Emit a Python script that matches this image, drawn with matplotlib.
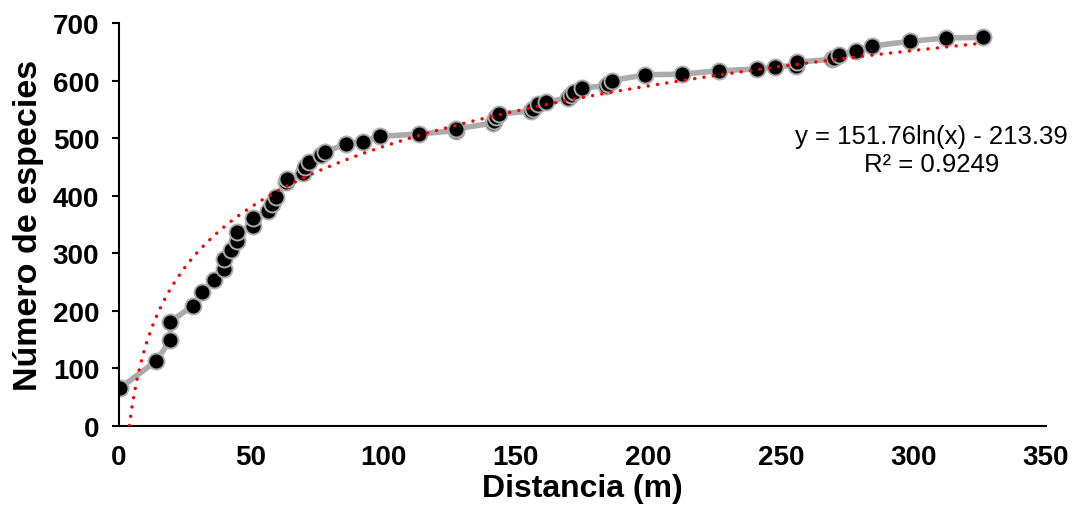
import numpy as np
import matplotlib.pyplot as plt
import matplotlib as mpl

mpl.rcParams['font.family'] = ['Liberation Sans', 'DejaVu Sans']

# datos
distancia = [0.6, 14, 19.6, 19.6, 28.1, 31.6, 35.9, 39.9, 39.9, 42.4, 44.6, 44.6,
             50.9, 50.9, 56.3, 58.0, 59.5, 63.3, 63.5, 69.5, 70.2, 71.8, 76.5, 78.1,
             85.9, 92.2, 98.8, 113.3, 127.2, 127.4, 141.2, 141.8, 142.3, 143.8,
             155.8, 156.3, 158.2, 161.4, 169.5, 170.8, 172.0, 175.0, 184.0, 184.6,
             186.3, 198.9, 212.7, 226.5, 241.2, 247.9, 255.6, 256.3, 269.5, 270.2,
             272.0, 278.4, 284.6, 298.7, 312.3, 326.2]
especies = [66, 112, 149, 181, 209, 232, 254, 273, 290, 306, 322, 336,
            348, 361, 374, 386, 397, 423, 429, 440, 449, 459, 471, 476,
            490, 494, 503, 507, 513, 516, 526, 530, 536, 542,
            547, 551, 559, 562, 570, 574, 580, 587, 591, 594,
            600, 610, 611, 617, 620, 624, 626, 632, 637, 640,
            645, 652, 660, 668, 674, 675]

# linea de tendencia logaritmica (Excel)
coef_a = 151.76
coef_b = -213.39
r2 = 0.9249

fig, ax = plt.subplots(figsize=(10.78, 5.10), dpi=100)
fig.subplots_adjust(left=0.110, right=0.970, bottom=0.163, top=0.953)

ax.plot(distancia, especies, color='#ABABAB', linewidth=4, zorder=2,
        marker='o', markersize=11.5, markerfacecolor='black',
        markeredgecolor='#ABABAB', markeredgewidth=1.4)

xt = np.linspace(min(distancia), max(distancia), 800)
yt = coef_a * np.log(xt) + coef_b
ax.plot(xt, yt, color='#FF0000', linestyle=(0, (0.01, 2.7)), linewidth=2.5,
        dash_capstyle='round', zorder=3)

ax.text(307, 504, f'y = {coef_a}ln(x) - {abs(coef_b)}', ha='center', va='center',
        fontsize=18.5)
ax.text(307, 455, f'R² = {r2}', ha='center', va='center', fontsize=18.5)

ax.set_xlim(0, 350)
ax.set_ylim(0, 700)
ax.set_xticks(range(0, 351, 50))
ax.set_yticks(range(0, 701, 100))

ax.spines['top'].set_visible(False)
ax.spines['right'].set_visible(False)
ax.spines['left'].set_linewidth(1.5)
ax.spines['bottom'].set_linewidth(1.5)

ax.tick_params(axis='y', direction='out', length=5, width=1.5, pad=9, labelsize=20)
ax.tick_params(axis='x', length=0, pad=13, labelsize=20)
for lab in ax.get_xticklabels() + ax.get_yticklabels():
    lab.set_fontweight('bold')

ax.set_xlabel('Distancia (m)', fontsize=23, fontweight='bold', labelpad=2)
ax.set_ylabel('Número de especies', fontsize=24.5, fontweight='bold', labelpad=6)

plt.savefig('out.png', dpi=100)
